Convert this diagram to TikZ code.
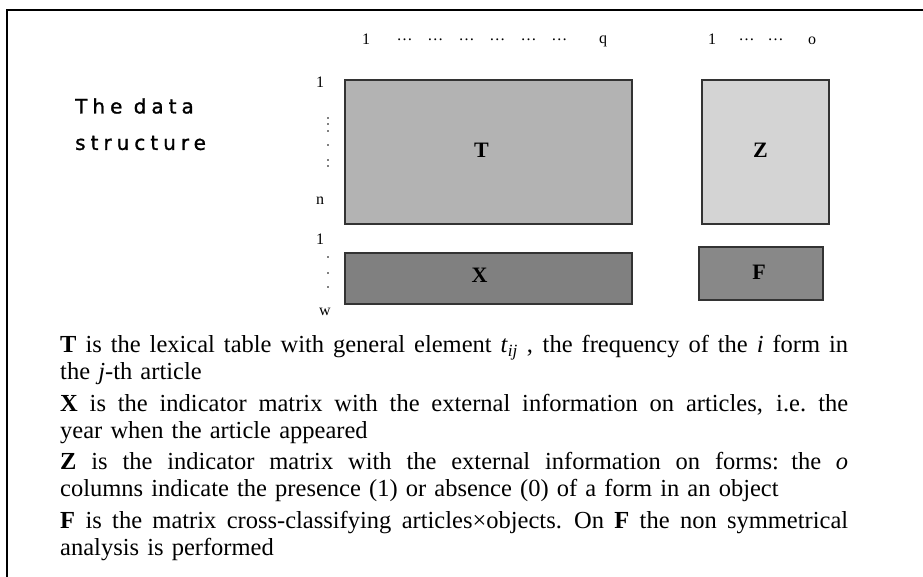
\documentclass[tikz,border=0pt]{standalone}
\usepackage{fontspec}
\setmainfont{Liberation Serif}
\newfontfamily\titlefont[LetterSpace=25,FakeBold=1.2]{DejaVu Sans}
\definecolor{gT}{HTML}{B3B3B3}
\definecolor{gZ}{HTML}{D4D4D4}
\definecolor{gX}{HTML}{808080}
\definecolor{gF}{HTML}{888888}
\definecolor{edge}{HTML}{333333}
\newcommand\jline[1]{\leavevmode\hbox to 788pt{\spaceskip=0.25em plus 2em minus 0.08em\relax #1}}
\tikzset{
  matbox/.style={draw=edge, line width=1.5pt, inner sep=0pt, font=\fontsize{22}{24}\selectfont\bfseries},
  idx/.style={inner sep=0pt, font=\fontsize{16}{18}\selectfont},
  vdot/.style={fill=black, radius=0.8pt},
  titletext/.style={anchor=west, inner sep=0pt, font=\titlefont\fontsize{20}{22}\selectfont},
  body/.style={inner sep=0pt, text width=788pt, align=left, font=\fontsize{24.5}{27.3}\selectfont}
}
\begin{document}
\begin{tikzpicture}[x=1pt,y=-1pt]
\useasboundingbox (0,0) rectangle (923,576);
\begin{scope}
\clip (0,0) rectangle (923,576);
\draw[line width=2pt] (7,600) -- (7,10) -- (940,10);
\end{scope}
% title
\node[titletext] (t1) at (75,106) {The data};
\node[titletext] (t2) at (75,143) {structure};
% matrices
\node[matbox, fill=gT, minimum width=287pt, minimum height=144pt] (T) at (488.5,152) {\raisebox{3pt}{\hspace*{-14pt}T}};
\node[matbox, fill=gZ, minimum width=127pt, minimum height=144pt] (Z) at (765.5,152) {\raisebox{3pt}{\hspace*{-10pt}Z}};
\node[matbox, fill=gX, minimum width=287pt, minimum height=51pt] (X) at (488.5,278.5) {\raisebox{6pt}{\hspace*{-18pt}X}};
\node[matbox, fill=gF, minimum width=124pt, minimum height=53pt] (F) at (761,273.5) {\raisebox{3pt}{\hspace*{-4pt}F}};
% column indices
\node[idx] (c1) at (366,39) {1};
\node[idx] (cd) at (482,40) {…\hspace{15pt}…\hspace{15pt}…\hspace{15pt}…\hspace{15pt}…\hspace{15pt}…};
\node[idx] (cq) at (603,41) {q};
\node[idx] (o1) at (712,39) {1};
\node[idx] (od) at (761,40) {…\hspace{13pt}…};
\node[idx] (oo) at (812,41) {o};
% row indices
\node[idx] (r1) at (320,82) {1};
\node[idx] (rn) at (320,201) {n};
\node[idx] (w1) at (320,239) {1};
\node[idx] (ww) at (325,312) {w};
\foreach \y in {118,124,131,145,160,166} \fill[vdot] (328,\y) circle;
\foreach \y in {257,273,287} \fill[vdot] (328,\y) circle;
% description
\node[body, anchor=north west] (desc) at (60,335) {%
\jline{\textbf{T} is the lexical table with general element \textit{t}\textsubscript{\textit{ij}} , the frequency of the \textit{i} form in}\\
the \textit{j}-th article\\[4pt]
\jline{\textbf{X} is the indicator matrix with the external information on articles, i.e. the}\\
year when the article appeared\\[4pt]
\jline{\textbf{Z} is the indicator matrix with the external information on forms: the \textit{o}}\\
columns indicate the presence (1) or absence (0) of a form in an object\\[4pt]
\jline{\textbf{F} is the matrix cross-classifying articles×objects. On \textbf{F} the non symmetrical}\\
analysis is performed};
\end{tikzpicture}
\end{document}
